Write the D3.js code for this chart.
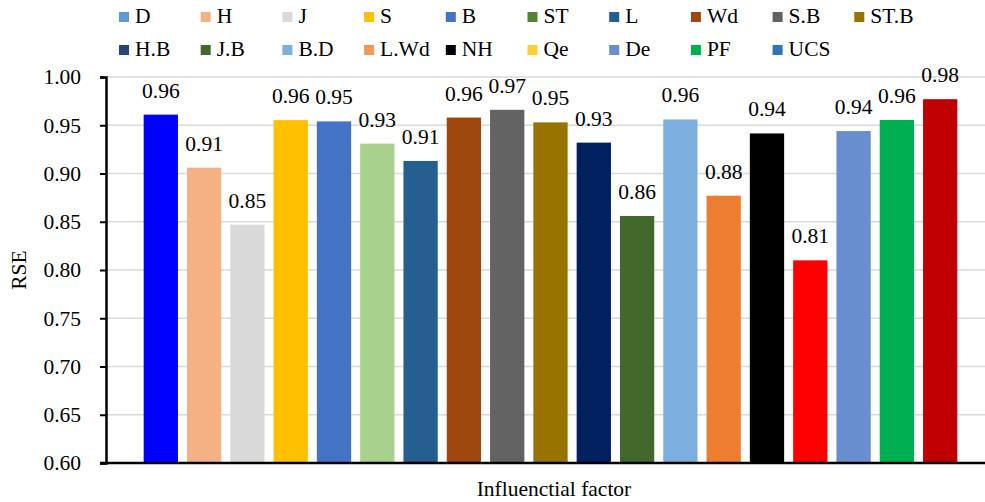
<!DOCTYPE html>
<html>
<head>
<meta charset="utf-8">
<script src="https://cdn.jsdelivr.net/npm/d3@7"></script>
<style>
  body { margin: 0; background: #fff; }
  text { font-family: "Liberation Serif", "Times New Roman", serif; fill: #000; }
</style>
</head>
<body>
<div id="chart"></div>
<script>
const width = 985
const height = 502
const margin = { top: 77, bottom: 39, left: 106, right: -10 }

// data
const factors = ["D", "H", "J", "S", "B", "ST", "L", "Wd", "S.B", "ST.B",
                 "H.B", "J.B", "B.D", "L.Wd", "NH", "Qe", "De", "PF", "UCS"]
const rse = [0.961, 0.906, 0.847, 0.9553, 0.954, 0.931, 0.913, 0.958, 0.966, 0.953,
             0.932, 0.856, 0.956, 0.877, 0.9415, 0.810, 0.944, 0.9555, 0.977]
const barColors = ["#0000FF", "#F4B183", "#D9D9D9", "#FFC000", "#4472C4", "#A9D18E", "#255E91", "#9E480E", "#636363", "#997300",
                   "#002060", "#43682B", "#7CAFDD", "#ED7D31", "#000000", "#FF0000", "#698ED0", "#00B050", "#C00000"]
const legendColors = ["#5B9BD5", "#F4B183", "#D9D9D9", "#FFC000", "#4472C4", "#548235", "#255E91", "#9E480E", "#636363", "#997300",
                      "#264478", "#43682B", "#7CAFDD", "#F1975A", "#000000", "#FFCD33", "#698ED0", "#00B050", "#2E75B6"]
const yTicks = [0.60, 0.65, 0.70, 0.75, 0.80, 0.85, 0.90, 0.95, 1.00]

const data = factors.map((f, i) => ({ name: f, value: rse[i], color: barColors[i], legend: legendColors[i] }))

const svg = d3.select("div#chart").append("svg").attr("width", width).attr("height", height)

const plotW = width - margin.left - margin.right
const plotH = height - margin.top - margin.bottom

const x = d3.scaleBand().domain(factors).range([0, plotW]).paddingInner(0.208).paddingOuter(0.87)
const y = d3.scaleLinear().domain([0.6, 1.0]).range([plotH, 0])

const plot = svg.append("g").attr("transform", `translate(${margin.left}, ${margin.top})`)

// gridlines
plot.append("g").selectAll("line").data(yTicks.slice(1)).enter().append("line")
    .attr("x1", 0).attr("x2", plotW)
    .attr("y1", d => y(d)).attr("y2", d => y(d))
    .attr("stroke", "#D9D9D9").attr("stroke-width", 1.5)

// bars
plot.append("g").selectAll("rect").data(data).enter().append("rect")
    .attr("x", d => x(d.name))
    .attr("y", d => y(d.value))
    .attr("width", x.bandwidth())
    .attr("height", d => plotH - y(d.value))
    .attr("fill", d => d.color)

// value labels
plot.append("g").selectAll("text").data(data).enter().append("text")
    .attr("x", d => x(d.name) + x.bandwidth() / 2)
    .attr("y", d => y(d.value) - 17)
    .attr("text-anchor", "middle")
    .style("font-size", "21.5px")
    .text(d => d3.format(".2f")(d.value))

// y axis
const yAxis = d3.axisLeft(y).tickValues(yTicks).tickFormat(d3.format(".2f")).tickSizeOuter(0).tickSize(6).tickPadding(19)
const yAxisGroup = plot.append("g").call(yAxis)
yAxisGroup.select(".domain").attr("stroke", "#000").attr("stroke-width", 2.5)
yAxisGroup.selectAll(".tick line").attr("stroke", "#000").attr("stroke-width", 2)
yAxisGroup.selectAll(".tick text").style("font-size", "21.5px").style("font-family", "'Liberation Serif', serif")

// x axis line
plot.append("line")
    .attr("x1", -6).attr("x2", plotW)
    .attr("y1", plotH).attr("y2", plotH)
    .attr("stroke", "#000").attr("stroke-width", 2.5)

// axis titles
svg.append("text").text("Influenctial factor")
    .attr("x", 554).attr("y", 496)
    .attr("text-anchor", "middle").style("font-size", "21.5px")

svg.append("text").text("RSE")
    .attr("transform", `translate(26, ${margin.top + plotH / 2}) rotate(-90)`)
    .attr("text-anchor", "middle").style("font-size", "21.5px")

// legend, two rows
const legend = svg.append("g").selectAll("g").data(data).enter().append("g")
    .attr("transform", (d, i) => `translate(${119 + (i % 10) * 81.7}, ${i < 10 ? 12 : 45})`)
legend.append("rect").attr("width", 10).attr("height", 10).attr("fill", d => d.legend)
legend.append("text").attr("x", 16).attr("y", 11).style("font-size", "21.5px").text(d => d.name)
</script>
</body>
</html>
